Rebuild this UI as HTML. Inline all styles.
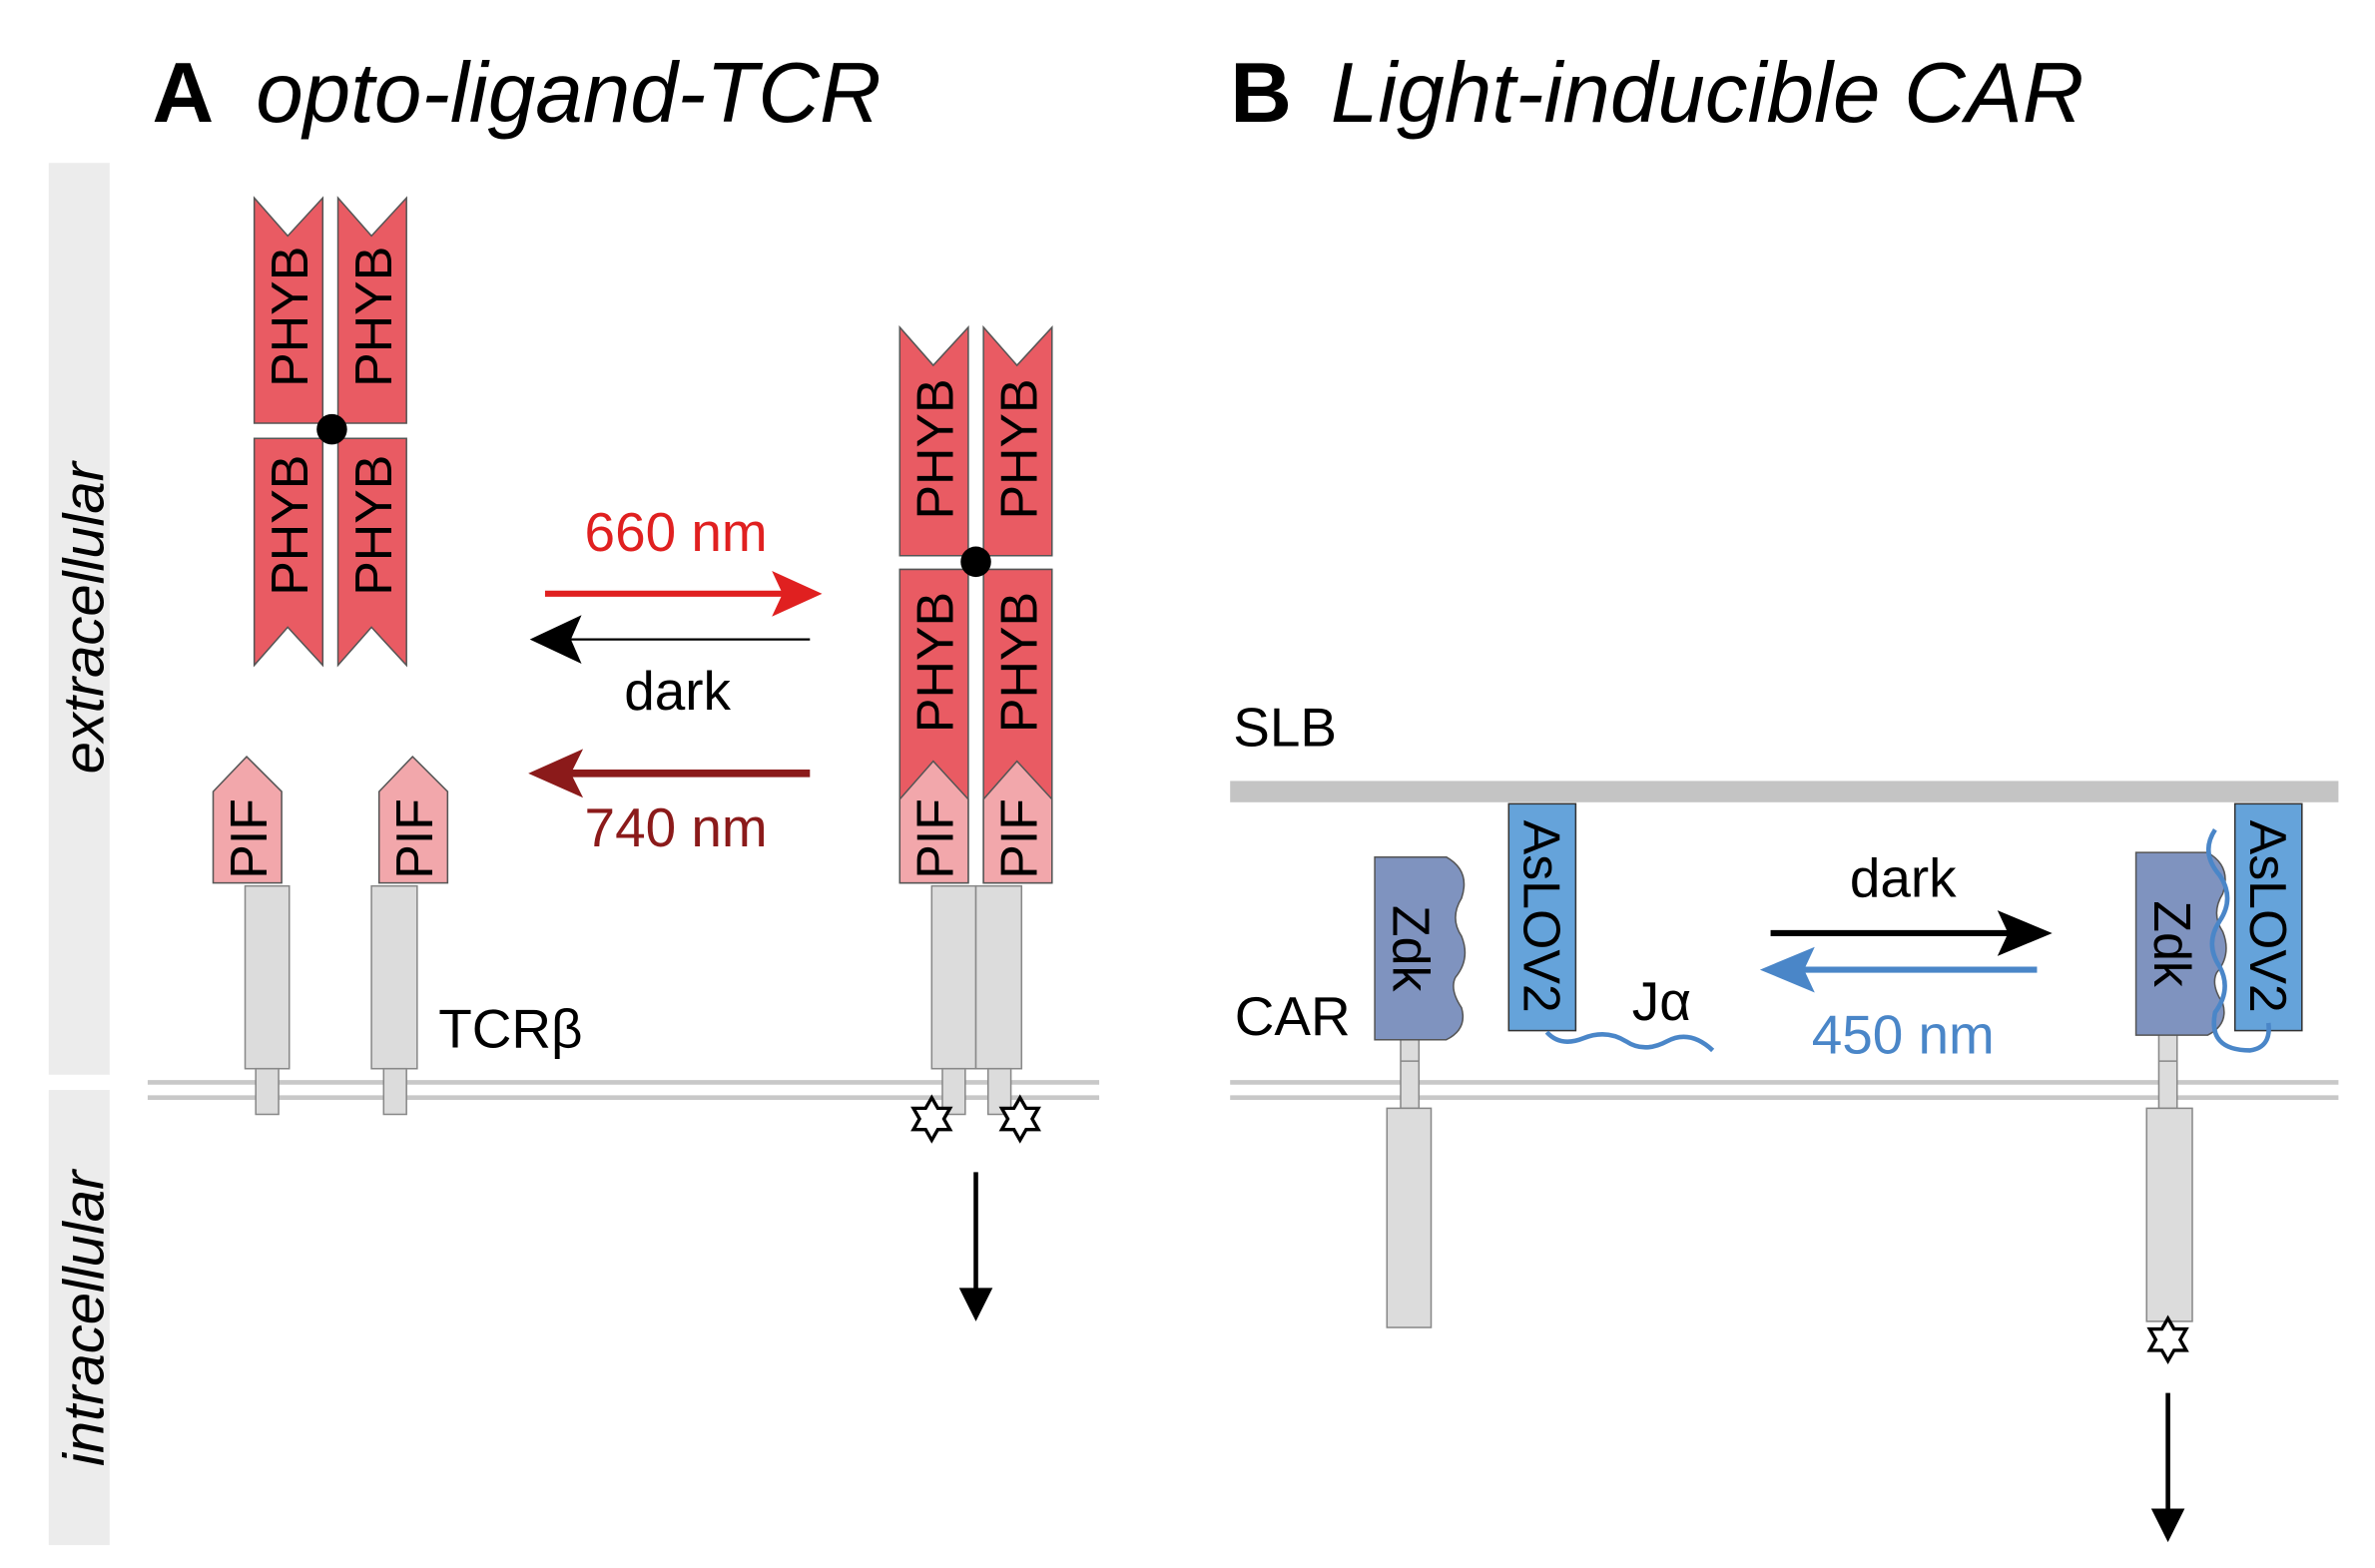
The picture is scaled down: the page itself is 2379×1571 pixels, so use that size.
<!DOCTYPE html>
<html><head><meta charset="utf-8"><style>html,body{margin:0;padding:0;background:#fff}svg{display:block}</style></head><body>
<svg width="2379" height="1571" viewBox="0 0 1560 1030" preserveAspectRatio="none" xmlns="http://www.w3.org/2000/svg" font-family="Liberation Sans, sans-serif">
<defs>
<path id="star" d="M0,-14 L4,-7 L12,-7 L8,0 L12,7 L4,7 L0,14 L-4,7 L-12,7 L-8,0 L-12,-7 L-4,-7Z" fill="#fff" stroke="#000" stroke-width="2.2"/>
</defs>
<!-- titles -->
<text x="100" y="80" font-size="56" font-weight="bold">A</text>
<text x="168" y="80" font-size="56" font-style="italic">opto-ligand-TCR</text>
<text x="808" y="80" font-size="56" font-weight="bold">B</text>
<text x="874" y="80" font-size="56" font-style="italic">Light-inducible CAR</text>
<!-- side bands -->
<rect x="32" y="107" width="40" height="599" fill="#ececec"/>
<rect x="32" y="716" width="40" height="299" fill="#ececec"/>
<text transform="translate(68,406) rotate(-90)" text-anchor="middle" font-size="38" font-style="italic">extracellular</text>
<text transform="translate(68,866) rotate(-90)" text-anchor="middle" font-size="38" font-style="italic">intracellular</text>
<!-- membranes -->
<g stroke="#c8c8c8" stroke-width="3">
<line x1="97" y1="711" x2="722" y2="711"/><line x1="97" y1="721" x2="722" y2="721"/>
<line x1="808" y1="711" x2="1536" y2="711"/><line x1="808" y1="721" x2="1536" y2="721"/>
</g>
<rect x="808" y="513" width="728" height="14" fill="#c4c4c4"/>
<g fill="#e95b63" stroke="#555" stroke-width="1">
<path d="M167,130 L189,155 L212,130 L212,278 L167,278Z"/>
<path d="M222,130 L244,155 L267,130 L267,278 L222,278Z"/>
<path d="M167,288 L212,288 L212,437 L189,412 L167,437Z"/>
<path d="M222,288 L267,288 L267,437 L244,412 L222,437Z"/>
<path d="M591,215 L613,240 L636,215 L636,365 L591,365Z"/>
<path d="M646,215 L668,240 L691,215 L691,365 L646,365Z"/>
<path d="M591,374 L636,374 L636,580 L591,580Z"/>
<path d="M646,374 L691,374 L691,580 L646,580Z"/>
</g>
<g fill="#f2a7ab" stroke="#555" stroke-width="1">
<path d="M140,520 L162,497 L185,520 L185,580 L140,580Z"/>
<path d="M249,520 L271,497 L294,520 L294,580 L249,580Z"/>
<path d="M591,525 L613,500 L636,525 L636,580 L591,580Z"/>
<path d="M646,525 L668,500 L691,525 L691,580 L646,580Z"/>
</g>
<circle cx="218" cy="282" r="10" fill="#000"/>
<circle cx="641" cy="369" r="10" fill="#000"/>
<g font-size="34" text-anchor="middle">
<text transform="translate(202,208) rotate(-90)">PHYB</text>
<text transform="translate(257,208) rotate(-90)">PHYB</text>
<text transform="translate(202,345) rotate(-90)">PHYB</text>
<text transform="translate(257,345) rotate(-90)">PHYB</text>
<text transform="translate(626,295) rotate(-90)">PHYB</text>
<text transform="translate(681,295) rotate(-90)">PHYB</text>
<text transform="translate(626,435) rotate(-90)">PHYB</text>
<text transform="translate(681,435) rotate(-90)">PHYB</text>
<text transform="translate(175,551) rotate(-90)">PIF</text>
<text transform="translate(284,551) rotate(-90)">PIF</text>
<text transform="translate(626,551) rotate(-90)">PIF</text>
<text transform="translate(681,551) rotate(-90)">PIF</text>
</g>
<!-- stems -->
<g fill="#dcdcdc" stroke="#888" stroke-width="1">
<rect x="161" y="582" width="29" height="120"/><rect x="168" y="702" width="15" height="30"/>
<rect x="244" y="582" width="30" height="120"/><rect x="252" y="702" width="15" height="30"/>
<rect x="612" y="582" width="29" height="120"/><rect x="619" y="702" width="15" height="30"/>
<rect x="641" y="582" width="30" height="120"/><rect x="649" y="702" width="15" height="30"/>
<rect x="920" y="645" width="12" height="83"/><rect x="911" y="728" width="29" height="144"/>
<rect x="1418" y="645" width="12" height="83"/><rect x="1410" y="728" width="30" height="140"/>
</g>
<line x1="920" y1="697" x2="932" y2="697" stroke="#888"/>
<line x1="1418" y1="697" x2="1430" y2="697" stroke="#888"/>
<text x="288" y="688" font-size="36">TCRβ</text>
<!-- A arrows -->
<line x1="358" y1="390" x2="515" y2="390" stroke="#e02020" stroke-width="4"/>
<path d="M540,390 L507,375 L514,390 L507,405Z" fill="#e02020"/>
<text x="444" y="362" font-size="36" fill="#e02020" text-anchor="middle">660 nm</text>
<line x1="532" y1="420" x2="370" y2="420" stroke="#000" stroke-width="1.5"/>
<path d="M348,420 L382,404 L375,420 L382,436Z" fill="#000"/>
<text x="445" y="466" font-size="36" text-anchor="middle">dark</text>
<line x1="532" y1="508" x2="370" y2="508" stroke="#8b1a1a" stroke-width="5"/>
<path d="M347,508 L383,492 L375,508 L383,524Z" fill="#8b1a1a"/>
<text x="444" y="556" font-size="36" fill="#8b1a1a" text-anchor="middle">740 nm</text>
<use href="#star" x="612" y="735"/><use href="#star" x="670" y="735"/><use href="#star" x="1424" y="880"/>
<line x1="641" y1="770" x2="641" y2="850" stroke="#000" stroke-width="3"/>
<path d="M630,846 L652,846 L641,868Z" fill="#000"/>
<line x1="1424" y1="915" x2="1424" y2="995" stroke="#000" stroke-width="3"/>
<path d="M1413,991 L1435,991 L1424,1013Z" fill="#000"/>
<!-- B -->
<text x="810" y="490" font-size="36">SLB</text>
<text x="811" y="680" font-size="36">CAR</text>
<g fill="#7f93bf" stroke="#555" stroke-width="1">
<path d="M903,563 L950,563 Q966,572 960,590 Q952,603 960,615 Q966,630 956,642 Q952,650 960,662 Q964,676 950,683 L903,683Z"/>
<path d="M1403,560 L1450,560 Q1466,569 1460,587 Q1452,600 1460,612 Q1466,627 1456,639 Q1452,647 1460,659 Q1464,673 1450,680 L1403,680Z"/>
</g>
<g fill="#65a3da" stroke="#333" stroke-width="1">
<rect x="991" y="528" width="44" height="149"/>
<rect x="1468" y="528" width="44" height="149"/>
</g>
<g font-size="34" text-anchor="middle">
<text transform="translate(915,623) rotate(90)">Zdk</text>
<text transform="translate(1415,620) rotate(90)">Zdk</text>
<text transform="translate(1001,602) rotate(90)">AsLOV2</text>
<text transform="translate(1478,602) rotate(90)">AsLOV2</text>
</g>
<path d="M1016,678 Q1025,688 1040,682 Q1055,676 1068,684 Q1080,692 1095,684 Q1110,676 1125,690" fill="none" stroke="#4a86c8" stroke-width="3"/>
<path d="M1455,545 Q1445,560 1458,575 Q1468,590 1458,605 Q1448,620 1458,635 Q1466,650 1455,665 Q1450,690 1478,690 Q1492,688 1490,672" fill="none" stroke="#4a86c8" stroke-width="3"/>
<text x="1072" y="670" font-size="36">Jα</text>
<line x1="1163" y1="613" x2="1320" y2="613" stroke="#000" stroke-width="4"/>
<path d="M1348,613 L1312,598 L1319,613 L1312,628Z" fill="#000"/>
<text x="1250" y="589" font-size="36" text-anchor="middle">dark</text>
<line x1="1338" y1="637" x2="1180" y2="637" stroke="#4a86c8" stroke-width="4"/>
<path d="M1156,637 L1192,622 L1185,637 L1192,652Z" fill="#4a86c8"/>
<text x="1250" y="692" font-size="36" fill="#4a86c8" text-anchor="middle">450 nm</text>
</svg>
</body></html>
